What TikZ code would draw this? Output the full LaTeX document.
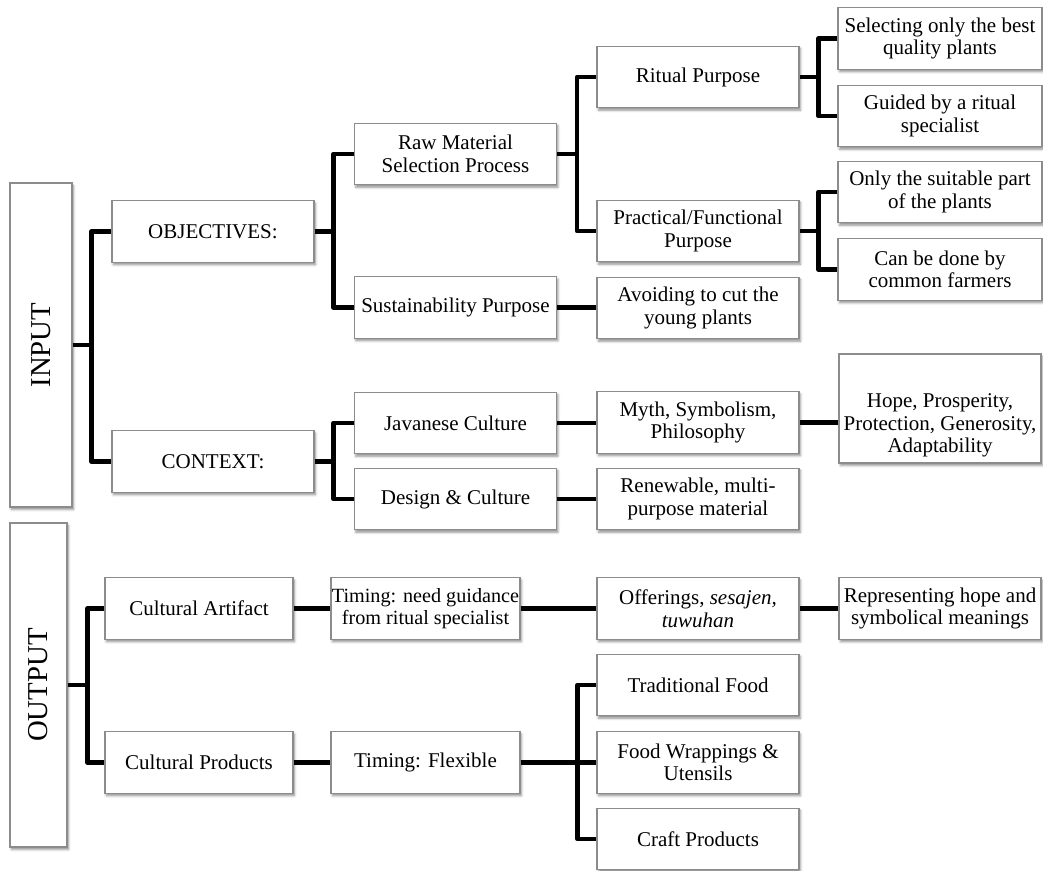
\documentclass[tikz,border=0pt]{standalone}
\usepackage{fontspec}
\setmainfont{Liberation Serif}
\usepackage{tikz}
\usetikzlibrary{shadows.blur}

\begin{document}
\begin{tikzpicture}[x=0.5pt,y=-0.5pt]
\tikzset{box/.style={draw=black!45,line width=0.6pt,fill=white,align=center,inner sep=1pt,
    minimum width=101pt,minimum height=30.8pt,font=\fontsize{10.5}{11.3}\selectfont,
    blur shadow={shadow xshift=0.7pt,shadow yshift=-1.2pt,shadow blur radius=1.2pt,shadow opacity=45}},
  stage/.style={box,font=\fontsize{14.4}{16}\selectfont},
  link/.style={line width=2.3pt,line join=round}}
\useasboundingbox (0,0) rectangle (1043,871);

\node (input) at (41,345) [stage,minimum width=31pt,minimum height=162pt] {\rotatebox{90}{INPUT}};
\node (output) at (38.5,685) [stage,minimum width=28.5pt,minimum height=162pt] {\rotatebox{90}{OUTPUT}};

\node (obj) at (213,231.5) [box] {OBJECTIVES:};
\node (ctx) at (213,461.5) [box] {CONTEXT:};
\node (raw) at (455.5,154) [box] {Raw Material\\Selection Process};
\node (sus) at (455.5,307.5) [box] {Sustainability Purpose};
\node (jav) at (455.5,423) [box] {Javanese Culture};
\node (des) at (455.5,499) [box] {Design \& Culture};
\node (rit) at (698,77) [box] {Ritual Purpose};
\node (pra) at (698,231) [box] {Practical/Functional\\Purpose};
\node (avo) at (698,308) [box] {Avoiding to cut the\\young plants};
\node (myth) at (698,422.5) [box] {Myth, Symbolism,\\Philosophy};
\node (ren) at (698,499) [box] {Renewable, multi-\\purpose material};
\node (sel) at (940,38.5) [box,minimum width=102pt] {Selecting only the best\\quality plants};
\node (gui) at (940,116) [box,minimum width=102pt] {Guided by a ritual\\specialist};
\node (onl) at (940,192) [box,minimum width=102pt] {Only the suitable part\\of the plants};
\node (can) at (940,269.5) [box,minimum width=102pt] {Can be done by\\common farmers};
\node (hope) at (940,408.5) [box,minimum height=54.5pt] {\rule{0pt}{24pt}Hope, Prosperity,\\Protection, Generosity,\\Adaptability};

\node (art) at (199,608.5) [box,minimum width=94pt] {Cultural Artifact};
\node (prod) at (199,762.5) [box,minimum width=94pt] {Cultural Products};
\node (tim1) at (425.5,608.5) [box,minimum width=94.5pt,inner xsep=0pt,font=\fontsize{10.1}{11.3}\selectfont] {Timing: need guidance\\from ritual specialist};
\node (tim2) at (425.5,762.5) [box,minimum width=94.5pt] {Timing: Flexible};
\node (off) at (698,608.5) [box] {Offerings, \textit{sesajen,}\\\textit{tuwuhan}};
\node (rep) at (940,608.5) [box] {Representing hope and\\symbolical meanings};
\node (trad) at (698,685) [box] {Traditional Food};
\node (wrap) at (698,762.5) [box] {Food Wrappings \&\\Utensils};
\node (craft) at (698,839) [box] {Craft Products};

\draw[link]
(input.east) -- ++(19,0) |- (obj.west)
(input.east) -- ++(19,0) |- (ctx.west)
(obj.east) -- ++(19,0) |- (raw.west)
(obj.east) -- ++(19,0) |- (sus.west)
(raw.east) -- ++(20,0) |- (rit.west)
(raw.east) -- ++(20,0) |- (pra.west)
(rit.east) -- ++(19,0) |- (sel.west)
(rit.east) -- ++(19,0) |- (gui.west)
(pra.east) -- ++(19,0) |- (onl.west)
(pra.east) -- ++(19,0) |- (can.west)
(sus.east) -- (sus.east -| avo.west)
(ctx.east) -- ++(19,0) |- (jav.west)
(ctx.east) -- ++(19,0) |- (des.west)
(jav.east) -- (jav.east -| myth.west)
(des.east) -- (des.east -| ren.west)
(myth.east) -- (myth.east -| hope.west);

\draw[link]
(output.east) -- ++(20,0) |- (art.west)
(output.east) -- ++(20,0) |- (prod.west)
(art.east) -- (tim1.west)
(tim1.east) -- (off.west)
(off.east) -- (rep.west)
(prod.east) -- (tim2.west)
(tim2.east) -- ++(57,0) |- (trad.west)
(tim2.east) -- ++(57,0) |- (wrap.west)
(tim2.east) -- ++(57,0) |- (craft.west);
\end{tikzpicture}
\end{document}
